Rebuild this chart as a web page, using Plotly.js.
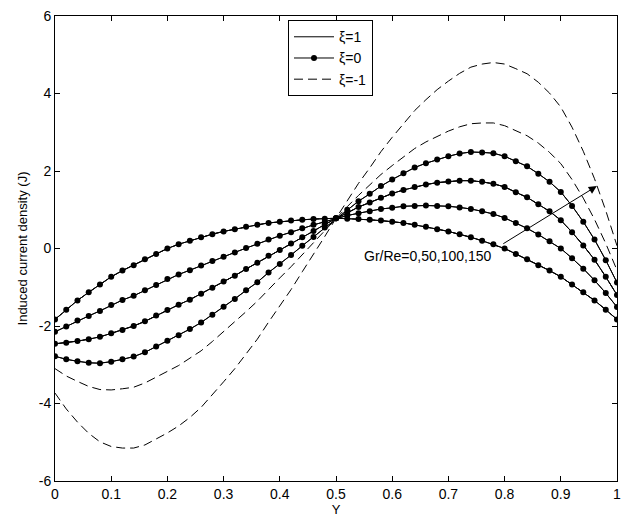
<!DOCTYPE html>
<html>
<head>
<meta charset="utf-8">
<script src="https://cdn.plot.ly/plotly-3.0.1.min.js"></script>
<style>html,body{margin:0;padding:0;background:#fff;}#chart{width:625px;height:517px;}</style>
</head>
<body>
<div id="chart"></div>
<script>
// Y positions (0 to 1, step 0.02)
const yPos = [0,0.02,0.04,0.06,0.08,0.10,0.12,0.14,0.16,0.18,0.20,0.22,0.24,0.26,0.28,0.30,0.32,0.34,0.36,0.38,0.40,0.42,0.44,0.46,0.48,0.50,
              0.52,0.54,0.56,0.58,0.60,0.62,0.64,0.66,0.68,0.70,0.72,0.74,0.76,0.78,0.80,0.82,0.84,0.86,0.88,0.90,0.92,0.94,0.96,0.98,1.00];

// xi = 0 (also xi = 1, coincident), Gr/Re = 0, 50, 100, 150
const J_GrRe0 = [-1.83,-1.58,-1.34,-1.13,-0.93,-0.73,-0.57,-0.43,-0.28,-0.14,0.00,0.11,0.20,0.29,0.37,0.44,0.50,0.56,0.61,0.66,0.69,0.72,0.74,0.76,0.77,0.78,
                 0.77,0.76,0.74,0.72,0.69,0.66,0.61,0.56,0.50,0.44,0.37,0.29,0.20,0.11,0.00,-0.14,-0.28,-0.43,-0.57,-0.73,-0.93,-1.13,-1.34,-1.58,-1.83];
const J_GrRe50 = [-2.15,-2.01,-1.86,-1.74,-1.61,-1.46,-1.33,-1.22,-1.08,-0.94,-0.79,-0.67,-0.56,-0.44,-0.32,-0.21,-0.10,0.01,0.12,0.23,0.33,0.42,0.52,0.61,0.69,0.78,
                  0.85,0.91,0.96,1.02,1.05,1.09,1.10,1.11,1.10,1.09,1.06,1.02,0.96,0.89,0.79,0.66,0.52,0.36,0.19,0.00,-0.25,-0.52,-0.82,-1.15,-1.51];
const J_GrRe100 = [-2.46,-2.43,-2.39,-2.34,-2.28,-2.19,-2.10,-2.00,-1.88,-1.73,-1.59,-1.45,-1.32,-1.17,-1.01,-0.85,-0.70,-0.53,-0.37,-0.19,-0.04,0.13,0.29,0.45,0.62,0.78,
                   0.92,1.07,1.19,1.31,1.42,1.51,1.59,1.65,1.70,1.73,1.75,1.75,1.72,1.67,1.59,1.45,1.32,1.14,0.96,0.73,0.42,0.08,-0.29,-0.73,-1.20];
const J_GrRe150 = [-2.78,-2.86,-2.91,-2.95,-2.96,-2.92,-2.86,-2.79,-2.68,-2.53,-2.38,-2.24,-2.08,-1.91,-1.71,-1.50,-1.30,-1.08,-0.87,-0.62,-0.40,-0.17,0.07,0.30,0.54,0.78,
                   1.00,1.22,1.41,1.61,1.78,1.94,2.09,2.20,2.30,2.38,2.45,2.49,2.48,2.46,2.38,2.25,2.12,1.93,1.72,1.46,1.10,0.69,0.23,-0.30,-0.88];

// xi = -1, Gr/Re = 100, 150 (Gr/Re = 0 and 50 lie under the solid curves)
const Jm_GrRe100 = [-3.10,-3.29,-3.43,-3.56,-3.64,-3.65,-3.62,-3.58,-3.47,-3.33,-3.17,-3.02,-2.84,-2.64,-2.40,-2.15,-1.90,-1.63,-1.36,-1.05,-0.76,-0.47,-0.15,0.15,0.46,0.78,
                    1.08,1.37,1.63,1.91,2.14,2.37,2.58,2.75,2.90,3.03,3.14,3.22,3.24,3.24,3.17,3.05,2.91,2.72,2.48,2.19,1.78,1.30,0.75,0.13,-0.56];
const Jm_GrRe150 = [-3.73,-4.14,-4.48,-4.77,-4.99,-5.11,-5.15,-5.15,-5.07,-4.92,-4.76,-4.58,-4.36,-4.10,-3.78,-3.44,-3.10,-2.72,-2.34,-1.90,-1.49,-1.06,-0.60,-0.16,0.31,0.78,
                    1.23,1.68,2.08,2.50,2.87,3.22,3.56,3.84,4.10,4.32,4.52,4.68,4.76,4.80,4.76,4.64,4.51,4.29,4.01,3.65,3.13,2.51,1.80,0.98,0.07];

const xTicks = [0,0.1,0.2,0.3,0.4,0.5,0.6,0.7,0.8,0.9,1];
const xTickText = ['0','0.1','0.2','0.3','0.4','0.5','0.6','0.7','0.8','0.9','1'];
const yTicks = [-6,-4,-2,0,2,4,6];
const yTickText = ['-6','-4','-2','0','2','4','6'];

const solidSets = [J_GrRe0, J_GrRe50, J_GrRe100, J_GrRe150];
const dashSets = [J_GrRe0, J_GrRe100, Jm_GrRe100, Jm_GrRe150];

const traces = [];
solidSets.forEach((ys, i) => traces.push({
  x: yPos, y: ys, type: 'scatter', mode: 'lines',
  line: {color: '#000', width: 1},
  name: 'ξ=1', legendgroup: 'a', showlegend: i === 0, hoverinfo: 'skip'
}));
solidSets.forEach((ys, i) => traces.push({
  x: yPos, y: ys, type: 'scatter', mode: 'lines+markers',
  line: {color: '#000', width: 1},
  marker: {color: '#000', size: 6, symbol: 'circle'},
  name: 'ξ=0', legendgroup: 'b', showlegend: i === 0, hoverinfo: 'skip'
}));
dashSets.forEach((ys, i) => traces.push({
  x: yPos, y: ys, type: 'scatter', mode: 'lines',
  line: {color: '#000', width: 1, dash: '9px,5px'},
  name: 'ξ=-1', legendgroup: 'c', showlegend: i === 0, hoverinfo: 'skip'
}));

const fontFam = 'Arial, "Liberation Sans", sans-serif';
const layout = {
  width: 625, height: 517,
  margin: {l: 55, r: 8, t: 16, b: 36},
  paper_bgcolor: '#fff', plot_bgcolor: '#fff',
  font: {family: fontFam, size: 14, color: '#000'},
  showlegend: true,
  legend: {
    x: 0.4146, y: 0.991, xanchor: 'left', yanchor: 'top',
    bgcolor: '#fff', bordercolor: '#000', borderwidth: 1,
    font: {family: fontFam, size: 14, color: '#000'},
    tracegroupgap: 0, itemwidth: 40
  },
  xaxis: {
    range: [0, 1], tickvals: xTicks, ticktext: xTickText,
    ticks: 'inside', ticklen: 5, tickcolor: '#000', tickwidth: 1,
    showline: true, linecolor: '#000', linewidth: 1, mirror: 'allticks',
    showgrid: false, zeroline: false,
    title: {text: 'Y', font: {size: 13}, standoff: 3},
    tickfont: {size: 14}
  },
  yaxis: {
    range: [-6, 6], tickvals: yTicks, ticktext: yTickText,
    ticks: 'inside', ticklen: 5, tickcolor: '#000', tickwidth: 1,
    showline: true, linecolor: '#000', linewidth: 1, mirror: 'allticks',
    showgrid: false, zeroline: false,
    title: {text: 'Induced current density (J)', font: {size: 13}, standoff: 8},
    tickfont: {size: 14}
  },
  annotations: [
    {x: 0.964, y: 1.61, ax: 0.795, ay: 0.1, axref: 'x', ayref: 'y', xref: 'x', yref: 'y',
     text: '', showarrow: true, arrowhead: 2, arrowsize: 1.6, arrowwidth: 1, arrowcolor: '#000'},
    {x: 0.78, y: -0.19, xref: 'x', yref: 'y', xanchor: 'right', yanchor: 'middle',
     text: 'Gr/Re=0,50,100,150', showarrow: false, font: {size: 14, color: '#000'}}
  ]
};

Plotly.newPlot('chart', traces, layout, {staticPlot: true, displayModeBar: false});
</script>
</body>
</html>
